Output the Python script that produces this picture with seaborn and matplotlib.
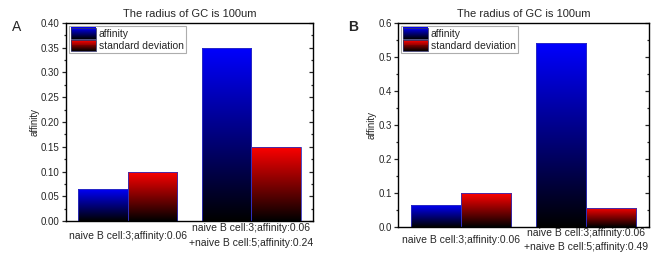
import seaborn as sns
import matplotlib.pyplot as plt
import matplotlib.colors as mcolors
import pandas as pd
import numpy as np
from matplotlib.patches import Rectangle
from matplotlib.legend_handler import HandlerBase
from matplotlib.ticker import MultipleLocator, AutoMinorLocator

# data
categories_a = ['naive B cell:3;affinity:0.06',
                'naive B cell:3;affinity:0.06\n+naive B cell:5;affinity:0.24']
categories_b = ['naive B cell:3;affinity:0.06',
                'naive B cell:3;affinity:0.06\n+naive B cell:5;affinity:0.49']
series = ['affinity', 'standard deviation']
affinity_a = [0.065, 0.35]
std_a = [0.10, 0.15]
affinity_b = [0.065, 0.54]
std_b = [0.10, 0.057]

colors = {'affinity': '#0000ff', 'standard deviation': '#ff0000'}


def gradient_cmap(c):
    return mcolors.LinearSegmentedColormap.from_list('g', ['#000000', c])


class GradientHandler(HandlerBase):
    def __init__(self, color):
        super().__init__()
        self.color = color

    def create_artists(self, legend, orig_handle, xdescent, ydescent,
                       width, height, fontsize, trans):
        cmap = gradient_cmap(self.color)
        n = 12
        arts = []
        for i in range(n):
            r = Rectangle((-xdescent, -ydescent + height * i / n), width, height / n + 0.3,
                          facecolor=cmap((i + 0.5) / n), edgecolor='none', transform=trans)
            arts.append(r)
        arts.append(Rectangle((-xdescent, -ydescent), width, height, facecolor='none',
                              edgecolor='#333366', lw=0.6, transform=trans))
        return arts


def draw_panel(ax, cats, aff, std, ymax, major, xpad):
    df = pd.DataFrame({
        'category': cats * 2,
        'series': [series[0]] * 2 + [series[1]] * 2,
        'value': aff + std,
    })
    sns.barplot(data=df, x='category', y='value', hue='series', order=cats,
                hue_order=series, palette=colors, width=0.8, ax=ax,
                legend=False, edgecolor='#3030c0', linewidth=0.6)
    # replace flat fill by a vertical gradient clipped to each bar
    for p in ax.patches:
        s = series[0] if p.get_facecolor()[2] > p.get_facecolor()[0] else series[1]
        x0, y0 = p.get_x(), p.get_y()
        w, h = p.get_width(), p.get_height()
        grad = np.linspace(0, 1, 256).reshape(-1, 1)
        im = ax.imshow(grad, cmap=gradient_cmap(colors[s]), origin='lower',
                       extent=[x0, x0 + w, y0, y0 + h], aspect='auto', zorder=p.get_zorder())
        im.set_clip_path(p)
        p.set_facecolor('none')
        p.set_zorder(p.get_zorder() + 0.1)
    ax.set_aspect('auto')
    ax.set_xlim(-0.5, 1.5)
    ax.set_ylim(0, ymax)

    ax.set_xlabel('')
    ax.set_ylabel('affinity', fontsize=7, labelpad=1)
    ax.set_title('The radius of GC is 100um', fontsize=8, pad=4)
    ax.yaxis.set_major_locator(MultipleLocator(major))
    ax.yaxis.set_minor_locator(AutoMinorLocator(2))
    ax.tick_params(axis='y', which='both', left=True, right=True, direction='out',
                   labelsize=7, width=0.9, pad=1.5)
    ax.tick_params(axis='y', which='major', length=3)
    ax.tick_params(axis='y', which='minor', length=1.8)
    ax.tick_params(axis='x', bottom=False, length=0, labelsize=7.5, pad=xpad)
    # right-side ticks point inward
    for t in ax.yaxis.get_major_ticks() + ax.yaxis.get_minor_ticks():
        t.tick2line.set_marker(0)
    for lbl in ax.get_xticklabels():
        lbl.set_linespacing(1.55)
        lbl.set_verticalalignment('center')
    for sp in ax.spines.values():
        sp.set_color('black')
        sp.set_linewidth(1.0)
    fmt = '{:.2f}' if major < 0.1 else '{:.1f}'
    ax.yaxis.set_major_formatter(plt.FuncFormatter(lambda v, _: fmt.format(v)))

    handles = [Rectangle((0, 0), 1, 1), Rectangle((0, 0), 1, 1)]
    leg = ax.legend(handles, series, loc='upper left', fontsize=7.5,
                    handler_map={handles[0]: GradientHandler(colors[series[0]]),
                                 handles[1]: GradientHandler(colors[series[1]])},
                    frameon=True, fancybox=False, edgecolor='#999999',
                    handlelength=2.4, handleheight=1.25, handletextpad=0.3,
                    labelspacing=0.12, borderpad=0.2, borderaxespad=0.25)
    leg.get_frame().set_linewidth(0.8)
    return ax


sns.set_theme(style='white')
plt.rcParams['font.family'] = ['Liberation Sans', 'DejaVu Sans']

fig = plt.figure(figsize=(6.63, 2.57), dpi=100)
ax_a = fig.add_axes([66 / 663, 1 - 221 / 257, 247 / 663, 198 / 257])
ax_b = fig.add_axes([398 / 663, 1 - 227 / 257, 251 / 663, 204 / 257])

draw_panel(ax_a, categories_a, affinity_a, std_a, 0.40, 0.05, 10.5)
draw_panel(ax_b, categories_b, affinity_b, std_b, 0.6, 0.1, 9.5)

fig.text(12 / 663, 1 - 27 / 257, 'A', fontsize=10, va='center')
fig.text(348 / 663, 1 - 27 / 257, 'B', fontsize=10, va='center', weight='bold')

fig.savefig('out.png', dpi=100)
